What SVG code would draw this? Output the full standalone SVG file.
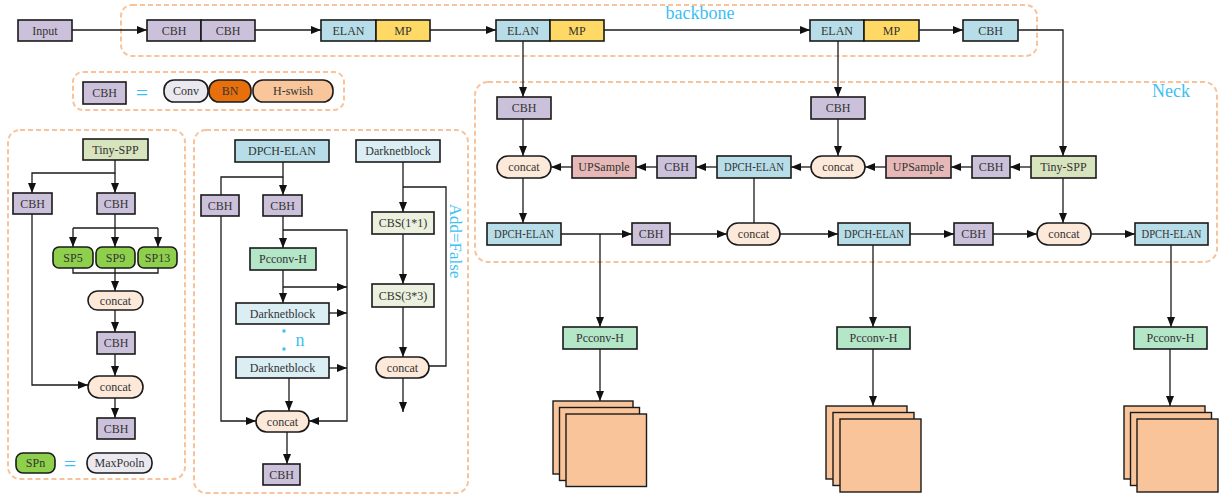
<svg xmlns="http://www.w3.org/2000/svg" width="1221" height="497" viewBox="0 0 1221 497">
<style>
.b{stroke:#1a1a1a;stroke-width:1.6}
.t{font-family:"Liberation Serif",serif;font-size:12px;fill:#333;text-anchor:middle}
.dash{fill:none;stroke:#f8c39b;stroke-width:2;stroke-dasharray:5 3}
.lbl{font-family:"Liberation Serif",serif;fill:#3cc0f2}
.cbh{fill:#ccc1da}.elan{fill:#b7dee8}.mp{fill:#ffd966}.spp{fill:#d7e4bd}.ups{fill:#e6b9b8}
.cc{fill:#fde9d9}.pc{fill:#b4e6c8}.dk{fill:#dbeef3}.cbs{fill:#ebf1de}.sp{fill:#8ed04c}
.gr{fill:#ebe9f0}.bn{fill:#e8700c}.hs{fill:#f9c59b}.st{fill:#f9c49a;stroke:#1a1a1a;stroke-width:1.4}
#edges path{fill:none;stroke:#1a1a1a;stroke-width:1.3}
</style>
<defs>
<marker id="a" viewBox="0 0 10 10" refX="10" refY="5" markerWidth="10" markerHeight="10" markerUnits="userSpaceOnUse" orient="auto"><path d="M0,1 L10,5 L0,9 z" fill="#111"/></marker>
</defs>

<!-- dashed regions -->
<rect class="dash" x="121" y="5" width="916" height="51" rx="11"/>
<text class="lbl" x="700" y="19" font-size="18" text-anchor="middle">backbone</text>
<rect class="dash" x="73" y="72" width="271" height="38" rx="10"/>
<rect class="dash" x="475" y="82" width="742" height="180" rx="13"/>
<text class="lbl" x="1171" y="97" font-size="18" text-anchor="middle">Neck</text>
<rect class="dash" x="8" y="130" width="177" height="349" rx="12"/>
<rect class="dash" x="194" y="130" width="274" height="363" rx="12"/>

<g id="edges">
<path d="M72,30 H147" marker-end="url(#a)"/>
<path d="M255,30 H321" marker-end="url(#a)"/>
<path d="M430,30 H496" marker-end="url(#a)"/>
<path d="M604,30 H810" marker-end="url(#a)"/>
<path d="M919,30 H963" marker-end="url(#a)"/>
<path d="M1018,30 H1063 V156" marker-end="url(#a)"/>
<path d="M523,41 V97" marker-end="url(#a)"/>
<path d="M838,41 V97" marker-end="url(#a)"/>
<path d="M1031,167 H1010" marker-end="url(#a)"/>
<path d="M972,167 H951" marker-end="url(#a)"/>
<path d="M886,167 H865" marker-end="url(#a)"/>
<path d="M811,167 H791" marker-end="url(#a)"/>
<path d="M717,167 H696" marker-end="url(#a)"/>
<path d="M657,167 H636" marker-end="url(#a)"/>
<path d="M572,167 H551" marker-end="url(#a)"/>
<path d="M523,119 V156" marker-end="url(#a)"/>
<path d="M838,119 V156" marker-end="url(#a)"/>
<path d="M523,178 V223" marker-end="url(#a)"/>
<path d="M754,178 V223"/>
<path d="M1063,178 V223" marker-end="url(#a)"/>
<path d="M561,234 H632" marker-end="url(#a)"/>
<path d="M600,234 V327" marker-end="url(#a)"/>
<path d="M670,234 H727" marker-end="url(#a)"/>
<path d="M780,234 H838" marker-end="url(#a)"/>
<path d="M910,234 H954" marker-end="url(#a)"/>
<path d="M873,234 V327" marker-end="url(#a)"/>
<path d="M993,234 H1037" marker-end="url(#a)"/>
<path d="M1091,234 H1135" marker-end="url(#a)"/>
<path d="M1171,245 V327" marker-end="url(#a)"/>
<path d="M600,349 V401" marker-end="url(#a)"/>
<path d="M873,349 V406" marker-end="url(#a)"/>
<path d="M1170,349 V406" marker-end="url(#a)"/>
<!-- SPP panel -->
<path d="M115,160 V173 H32 V193" marker-end="url(#a)"/>
<path d="M115,173 V193" marker-end="url(#a)"/>
<path d="M115,214 V228"/>
<path d="M73,228 H158"/>
<path d="M73,228 V247" marker-end="url(#a)"/>
<path d="M115,228 V247" marker-end="url(#a)"/>
<path d="M158,228 V247" marker-end="url(#a)"/>
<path d="M73,268 V273 H158 V268"/>
<path d="M115,268 V291" marker-end="url(#a)"/>
<path d="M115,310 V332" marker-end="url(#a)"/>
<path d="M115,354 V376" marker-end="url(#a)"/>
<path d="M32,214 V385 H88" marker-end="url(#a)"/>
<path d="M115,398 V418" marker-end="url(#a)"/>
<!-- DPCH-ELAN panel -->
<path d="M283,162 V177 H221 V195"/>
<path d="M283,177 V195" marker-end="url(#a)"/>
<path d="M283,216 V248" marker-end="url(#a)"/>
<path d="M283,230 H347 V421 H309" marker-end="url(#a)"/>
<path d="M283,270 V303" marker-end="url(#a)"/>
<path d="M283,287 H347" marker-end="url(#a)"/>
<path d="M329,313 H347" marker-end="url(#a)"/>
<path d="M329,368 H347" marker-end="url(#a)"/>
<path d="M289,378 V411" marker-end="url(#a)"/>
<path d="M221,216 V421 H256" marker-end="url(#a)"/>
<path d="M287,432 V464" marker-end="url(#a)"/>
<!-- Darknetblock -->
<path d="M403,162 V212" marker-end="url(#a)"/>
<path d="M403,187 H446 V366 H429"/>
<path d="M403,234 V284" marker-end="url(#a)"/>
<path d="M403,307 V357" marker-end="url(#a)"/>
<path d="M403,378 V412" marker-end="url(#a)"/>
</g>

<!-- backbone nodes -->
<g id="input"><rect class="b cbh" x="18" y="20" width="54" height="21"/><text class="t" x="45" y="34.5">Input</text></g>
<g id="bb-cbh1"><rect class="b cbh" x="147" y="20" width="54" height="21"/><text class="t" x="174" y="34.5">CBH</text></g>
<g id="bb-cbh2"><rect class="b cbh" x="201" y="20" width="54" height="21"/><text class="t" x="228" y="34.5">CBH</text></g>
<g id="bb-elan1"><rect class="b elan" x="321" y="20" width="55" height="21"/><text class="t" x="348.5" y="34.5">ELAN</text></g>
<g id="bb-mp1"><rect class="b mp" x="376" y="20" width="54" height="21"/><text class="t" x="403" y="34.5">MP</text></g>
<g id="bb-elan2"><rect class="b elan" x="496" y="20" width="54" height="21"/><text class="t" x="523" y="34.5">ELAN</text></g>
<g id="bb-mp2"><rect class="b mp" x="550" y="20" width="54" height="21"/><text class="t" x="577" y="34.5">MP</text></g>
<g id="bb-elan3"><rect class="b elan" x="810" y="20" width="54" height="21"/><text class="t" x="837" y="34.5">ELAN</text></g>
<g id="bb-mp3"><rect class="b mp" x="864" y="20" width="55" height="21"/><text class="t" x="891.5" y="34.5">MP</text></g>
<g id="bb-cbh3"><rect class="b elan" x="963" y="20" width="55" height="21"/><text class="t" x="990.5" y="34.5">CBH</text></g>

<!-- legend CBH -->
<g id="legend-cbh">
<rect class="b cbh" x="83" y="82" width="43" height="22"/><text class="t" x="104.5" y="97">CBH</text>
<text class="lbl" x="142" y="100" font-size="22" text-anchor="middle">=</text>
<rect class="b gr" x="164" y="80" width="44" height="22" rx="10"/><text class="t" x="186" y="95">Conv</text>
<rect class="b bn" x="209" y="80" width="42" height="22" rx="10"/><text class="t" x="230" y="95">BN</text>
<rect class="b hs" x="253" y="80" width="80" height="22" rx="10"/><text class="t" x="293" y="95">H-swish</text>
</g>

<!-- neck nodes -->
<g id="n-cbh1"><rect class="b cbh" x="497" y="97" width="54" height="22"/><text class="t" x="524" y="112">CBH</text></g>
<g id="n-cbh2"><rect class="b cbh" x="811" y="97" width="54" height="22"/><text class="t" x="838" y="112">CBH</text></g>
<g id="n-concat1"><rect class="b cc" x="497" y="156" width="54" height="22" rx="11"/><text class="t" x="524" y="171">concat</text></g>
<g id="n-ups1"><rect class="b ups" x="572" y="156" width="64" height="22"/><text class="t" x="604" y="171">UPSample</text></g>
<g id="n-cbh3"><rect class="b cbh" x="657" y="156" width="39" height="22"/><text class="t" x="676.5" y="171">CBH</text></g>
<g id="n-dpch1"><rect class="b elan" x="717" y="156" width="74" height="22"/><text class="t" x="754" y="171" textLength="60" lengthAdjust="spacingAndGlyphs">DPCH-ELAN</text></g>
<g id="n-concat2"><rect class="b cc" x="811" y="156" width="54" height="22" rx="11"/><text class="t" x="838" y="171">concat</text></g>
<g id="n-ups2"><rect class="b ups" x="886" y="156" width="65" height="22"/><text class="t" x="918.5" y="171">UPSample</text></g>
<g id="n-cbh4"><rect class="b cbh" x="972" y="156" width="38" height="22"/><text class="t" x="991" y="171">CBH</text></g>
<g id="n-spp"><rect class="b spp" x="1031" y="156" width="65" height="22"/><text class="t" x="1063.5" y="171">Tiny-SPP</text></g>
<g id="n-dpch2"><rect class="b elan" x="487" y="223" width="74" height="22"/><text class="t" x="524" y="238" textLength="60" lengthAdjust="spacingAndGlyphs">DPCH-ELAN</text></g>
<g id="n-cbh5"><rect class="b cbh" x="632" y="223" width="38" height="22"/><text class="t" x="651" y="238">CBH</text></g>
<g id="n-concat3"><rect class="b cc" x="727" y="223" width="53" height="22" rx="11"/><text class="t" x="753.5" y="238">concat</text></g>
<g id="n-dpch3"><rect class="b elan" x="838" y="223" width="72" height="22"/><text class="t" x="874" y="238" textLength="60" lengthAdjust="spacingAndGlyphs">DPCH-ELAN</text></g>
<g id="n-cbh6"><rect class="b cbh" x="954" y="223" width="39" height="22"/><text class="t" x="973.5" y="238">CBH</text></g>
<g id="n-concat4"><rect class="b cc" x="1037" y="223" width="54" height="22" rx="11"/><text class="t" x="1064" y="238">concat</text></g>
<g id="n-dpch4"><rect class="b elan" x="1135" y="223" width="73" height="22"/><text class="t" x="1171.5" y="238" textLength="60" lengthAdjust="spacingAndGlyphs">DPCH-ELAN</text></g>

<!-- heads -->
<g id="h-pc1"><rect class="b pc" x="563" y="327" width="74" height="22"/><text class="t" x="600" y="342">Pcconv-H</text></g>
<g id="h-pc2"><rect class="b pc" x="837" y="327" width="73" height="22"/><text class="t" x="873.5" y="342">Pcconv-H</text></g>
<g id="h-pc3"><rect class="b pc" x="1134" y="327" width="73" height="22"/><text class="t" x="1170.5" y="342">Pcconv-H</text></g>
<g id="h-out1"><rect class="st" x="553" y="401" width="80" height="73"/><rect class="st" x="559.5" y="407.5" width="80" height="73"/><rect class="st" x="566" y="414" width="80.5" height="72.5"/></g>
<g id="h-out2"><rect class="st" x="826" y="406" width="81" height="73"/><rect class="st" x="833" y="412.5" width="81" height="73"/><rect class="st" x="840" y="419" width="81" height="73"/></g>
<g id="h-out3"><rect class="st" x="1124" y="406" width="81" height="73"/><rect class="st" x="1130.5" y="412.5" width="81" height="73"/><rect class="st" x="1137" y="419" width="81" height="73"/></g>

<!-- Tiny-SPP panel -->
<g id="s-spp"><rect class="b spp" x="83" y="139" width="65" height="21"/><text class="t" x="115.5" y="154">Tiny-SPP</text></g>
<g id="s-cbh1"><rect class="b cbh" x="13" y="193" width="39" height="21"/><text class="t" x="32.5" y="208">CBH</text></g>
<g id="s-cbh2"><rect class="b cbh" x="97" y="193" width="38" height="21"/><text class="t" x="116" y="208">CBH</text></g>
<g id="s-sp5"><rect class="b sp" x="53" y="247" width="40" height="21" rx="6"/><text class="t" x="73" y="262">SP5</text></g>
<g id="s-sp9"><rect class="b sp" x="96" y="247" width="39" height="21" rx="6"/><text class="t" x="115.5" y="262">SP9</text></g>
<g id="s-sp13"><rect class="b sp" x="138" y="247" width="39" height="21" rx="6"/><text class="t" x="157.5" y="262">SP13</text></g>
<g id="s-concat1"><rect class="b cc" x="88" y="291" width="55" height="19" rx="9.5"/><text class="t" x="115.5" y="305">concat</text></g>
<g id="s-cbh3"><rect class="b cbh" x="97" y="332" width="38" height="22"/><text class="t" x="116" y="347">CBH</text></g>
<g id="s-concat2"><rect class="b cc" x="88" y="376" width="55" height="22" rx="11"/><text class="t" x="115.5" y="391">concat</text></g>
<g id="s-cbh4"><rect class="b cbh" x="97" y="418" width="38" height="21"/><text class="t" x="116" y="433">CBH</text></g>
<g id="s-legend">
<rect class="b sp" x="16" y="453" width="39" height="20" rx="7"/><text class="t" x="35.5" y="467">SPn</text>
<text class="lbl" x="70" y="471" font-size="22" text-anchor="middle">=</text>
<rect class="b gr" x="87" y="453" width="65" height="20" rx="9"/><text class="t" x="119.5" y="467">MaxPooln</text>
</g>

<!-- DPCH-ELAN panel -->
<g id="d-dpch"><rect class="b elan" x="235" y="140" width="94" height="22"/><text class="t" x="282" y="155">DPCH-ELAN</text></g>
<g id="d-cbh1"><rect class="b cbh" x="201" y="195" width="38" height="21"/><text class="t" x="220" y="210">CBH</text></g>
<g id="d-cbh2"><rect class="b cbh" x="263" y="195" width="39" height="21"/><text class="t" x="282.5" y="210">CBH</text></g>
<g id="d-pc"><rect class="b pc" x="250" y="248" width="66" height="22"/><text class="t" x="283" y="263">Pcconv-H</text></g>
<g id="d-dk1"><rect class="b dk" x="236" y="303" width="93" height="21"/><text class="t" x="282.5" y="318">Darknetblock</text></g>
<g id="d-n"><rect x="282.5" y="329.5" width="3" height="3" fill="#3cc0f2"/><rect x="282.5" y="347.5" width="3" height="3" fill="#3cc0f2"/><text class="lbl" x="300" y="346" font-size="18" text-anchor="middle">n</text></g>
<g id="d-dk2"><rect class="b dk" x="236" y="357" width="93" height="21"/><text class="t" x="282.5" y="372">Darknetblock</text></g>
<g id="d-concat"><rect class="b cc" x="256" y="411" width="53" height="21" rx="10.5"/><text class="t" x="282.5" y="425.5">concat</text></g>
<g id="d-cbh3"><rect class="b cbh" x="263" y="464" width="37" height="21"/><text class="t" x="281.5" y="479">CBH</text></g>

<!-- Darknetblock detail -->
<g id="k-dk"><rect class="b dk" x="356" y="140" width="84" height="22"/><text class="t" x="398" y="155">Darknetblock</text></g>
<g id="k-cbs1"><rect class="b cbs" x="372" y="212" width="62" height="22"/><text class="t" x="403" y="227">CBS(1*1)</text></g>
<g id="k-cbs2"><rect class="b cbs" x="372" y="284" width="62" height="23"/><text class="t" x="403" y="299.5">CBS(3*3)</text></g>
<g id="k-concat"><rect class="b cc" x="376" y="357" width="53" height="21" rx="10.5"/><text class="t" x="402.5" y="371.5">concat</text></g>
<text class="lbl" x="0" y="0" font-size="17" text-anchor="middle" transform="translate(450,241) rotate(90)">Add=False</text>
</svg>
